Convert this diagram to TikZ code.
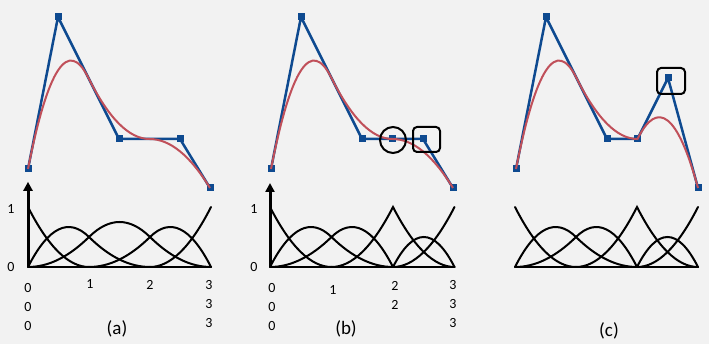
\documentclass[tikz,border=0pt]{standalone}
\usepackage{fontspec}
\setmainfont{Carlito}
\usetikzlibrary{arrows.meta,calc}
\definecolor{bgc}{RGB}{242,242,242}
\definecolor{polyc}{RGB}{14,74,144}
\definecolor{curvc}{RGB}{192,80,90}
\tikzset{
  mk/.style={rectangle,fill=polyc,minimum size=7pt,inner sep=0pt},
  poly/.style={draw=polyc,line width=2.5pt,line join=round},
  curv/.style={draw=curvc,line width=2pt},
  basis/.style={draw=black,line width=2pt,line cap=round},
  axisarrow/.style={draw=black,line width=3pt,-{Triangle[length=9pt,width=9pt]}},
  num/.style={font=\fontsize{14}{16}\selectfont,inner sep=0pt},
  panellabel/.style={font=\fontsize{19}{21}\selectfont,inner sep=0pt},
  hl/.style={draw=black,line width=2pt}
}
\begin{document}
\begin{tikzpicture}[x=1pt,y=-1pt]
\fill[bgc] (0,0) rectangle (709,344);
\useasboundingbox (0,0) rectangle (709,344);

% ---------- panel (a) ----------
\node[mk] (A0) at (28,169) {};
\node[mk] (A1) at (58,17) {};
\node[mk] (A2) at (119,139) {};
\node[mk] (A3) at (180,139) {};
\node[mk] (A4) at (210,188) {};
\draw[poly] (A0.center) -- (A1.center) -- (A2.center) -- (A3.center) -- (A4.center);
\coordinate (AM1) at ($(A1)!0.5!(A2)$);
\coordinate (AM2) at ($(A2)!0.5!(A3)$);
\draw[curv] (A0.center)
  .. controls ($(A0.center)!2/3!(A1.center)$) and ($(AM1)!2/3!(A1.center)$) .. (AM1)
  .. controls ($(AM1)!2/3!(A2.center)$) and ($(AM2)!2/3!(A2.center)$) .. (AM2)
  .. controls ($(AM2)!2/3!(A3.center)$) and ($(A4.center)!2/3!(A3.center)$) .. (A4.center);

\begin{scope}[shift={(28pt,-267pt)},x=61pt,y=60pt]
  \coordinate (aO) at (0,0);
  \coordinate (aT) at (0,1.42);
  \coordinate (aE) at (3,0);
  \draw[basis] (aO) -- (aE);
  \draw[basis] (0,1) .. controls (0.3333,0.3333) and (0.6667,0) .. (1,0);
  \draw[basis] (0,0) .. controls (0.3333,0.6667) and (0.6667,0.8333) .. (1,0.5)
                     .. controls (1.3333,0.1667) and (1.6667,0) .. (2,0);
  \draw[basis] (0,0) .. controls (0.3333,0) and (0.6667,0.1667) .. (1,0.5)
                     .. controls (1.3333,0.8333) and (1.6667,0.8333) .. (2,0.5)
                     .. controls (2.3333,0.1667) and (2.6667,0) .. (3,0);
  \draw[basis] (1,0) .. controls (1.3333,0) and (1.6667,0.1667) .. (2,0.5)
                     .. controls (2.3333,0.8333) and (2.6667,0.6667) .. (3,0);
  \draw[basis] (2,0) .. controls (2.3333,0) and (2.6667,0.3333) .. (3,1);
  \draw[axisarrow] (aO) -- (aT);
\end{scope}
\node[num] (a1) at (11,209) {1};
\node[num] (a0) at (11,267) {0};
\node[num] (ak0a) at (28,288) {0};
\node[num] (ak0b) at (28,307) {0};
\node[num] (ak0c) at (28,326) {0};
\node[num] (ak1) at (90,284) {1};
\node[num] (ak2) at (150,285) {2};
\node[num] (ak3a) at (209,285) {3};
\node[num] (ak3b) at (209,304) {3};
\node[num] (ak3c) at (209,323) {3};
\node[panellabel] (capa) at (117,329) {(a)};

% ---------- panel (b) ----------
\node[mk] (B0) at (271,169) {};
\node[mk] (B1) at (301,17) {};
\node[mk] (B2) at (362,139) {};
\node[mk] (B3) at (392.5,139) {};
\node[mk] (B4) at (423,139) {};
\node[mk] (B5) at (453,188) {};
\draw[poly] (B0.center) -- (B1.center) -- (B2.center) -- (B3.center) -- (B4.center) -- (B5.center);
\coordinate (BM1) at ($(B1)!0.5!(B2)$);
\draw[curv] (B0.center)
  .. controls ($(B0.center)!2/3!(B1.center)$) and ($(BM1)!2/3!(B1.center)$) .. (BM1)
  .. controls ($(BM1)!2/3!(B2.center)$) and ($(B3.center)!2/3!(B2.center)$) .. (B3.center)
  .. controls ($(B3.center)!2/3!(B4.center)$) and ($(B5.center)!2/3!(B4.center)$) .. (B5.center);
\draw[hl] (393,140) circle[radius=13];
\draw[hl,rounded corners=4pt] (413,127) rectangle (440,152);

\begin{scope}[shift={(270pt,-267pt)},x=61.5pt,y=60pt]
  \coordinate (bO) at (0,0);
  \coordinate (bT) at (0,1.40);
  \coordinate (bE) at (3,0);
  \draw[basis] (bO) -- (bE);
  \draw[basis] (0,1) .. controls (0.3333,0.3333) and (0.6667,0) .. (1,0);
  \draw[basis] (0,0) .. controls (0.3333,0.6667) and (0.6667,0.8333) .. (1,0.5)
                     .. controls (1.3333,0.1667) and (1.6667,0) .. (2,0);
  \draw[basis] (0,0) .. controls (0.3333,0) and (0.6667,0.1667) .. (1,0.5)
                     .. controls (1.3333,0.8333) and (1.6667,0.6667) .. (2,0);
  \draw[basis] (1,0) .. controls (1.3333,0) and (1.6667,0.3333) .. (2,1)
                     .. controls (2.3333,0.3333) and (2.6667,0) .. (3,0);
  \draw[basis] (2,0) .. controls (2.3333,0.6667) and (2.6667,0.6667) .. (3,0);
  \draw[basis] (2,0) .. controls (2.3333,0) and (2.6667,0.3333) .. (3,1);
  \draw[axisarrow] (bO) -- (bT);
\end{scope}
\node[num] (b1) at (254,209) {1};
\node[num] (b0) at (254,267) {0};
\node[num] (bk0a) at (272,288) {0};
\node[num] (bk0b) at (272,307) {0};
\node[num] (bk0c) at (272,326) {0};
\node[num] (bk1) at (333,290) {1};
\node[num] (bk2a) at (395,286) {2};
\node[num] (bk2b) at (395,305) {2};
\node[num] (bk3a) at (453,285) {3};
\node[num] (bk3b) at (453,304) {3};
\node[num] (bk3c) at (453,323) {3};
\node[panellabel] (capb) at (346,329) {(b)};

% ---------- panel (c) ----------
\node[mk] (C0) at (516,169) {};
\node[mk] (C1) at (546,17) {};
\node[mk] (C2) at (607,139) {};
\node[mk] (C3) at (637.5,139) {};
\node[mk] (C4) at (668,78) {};
\node[mk] (C5) at (698,188) {};
\draw[poly] (C0.center) -- (C1.center) -- (C2.center) -- (C3.center) -- (C4.center) -- (C5.center);
\coordinate (CM1) at ($(C1)!0.5!(C2)$);
\draw[curv] (C0.center)
  .. controls ($(C0.center)!2/3!(C1.center)$) and ($(CM1)!2/3!(C1.center)$) .. (CM1)
  .. controls ($(CM1)!2/3!(C2.center)$) and ($(C3.center)!2/3!(C2.center)$) .. (C3.center)
  .. controls ($(C3.center)!2/3!(C4.center)$) and ($(C5.center)!2/3!(C4.center)$) .. (C5.center);
\draw[hl,rounded corners=4pt] (657,68) rectangle (685,94);

\begin{scope}[shift={(515pt,-267pt)},x=61pt,y=60pt]
  \coordinate (cO) at (0,0);
  \coordinate (cE) at (3,0);
  \draw[basis] (cO) -- (cE);
  \draw[basis] (0,1) .. controls (0.3333,0.3333) and (0.6667,0) .. (1,0);
  \draw[basis] (0,0) .. controls (0.3333,0.6667) and (0.6667,0.8333) .. (1,0.5)
                     .. controls (1.3333,0.1667) and (1.6667,0) .. (2,0);
  \draw[basis] (0,0) .. controls (0.3333,0) and (0.6667,0.1667) .. (1,0.5)
                     .. controls (1.3333,0.8333) and (1.6667,0.6667) .. (2,0);
  \draw[basis] (1,0) .. controls (1.3333,0) and (1.6667,0.3333) .. (2,1)
                     .. controls (2.3333,0.3333) and (2.6667,0) .. (3,0);
  \draw[basis] (2,0) .. controls (2.3333,0.6667) and (2.6667,0.6667) .. (3,0);
  \draw[basis] (2,0) .. controls (2.3333,0) and (2.6667,0.3333) .. (3,1);
\end{scope}
\node[panellabel] (capc) at (609,331) {(c)};
\end{tikzpicture}
\end{document}
